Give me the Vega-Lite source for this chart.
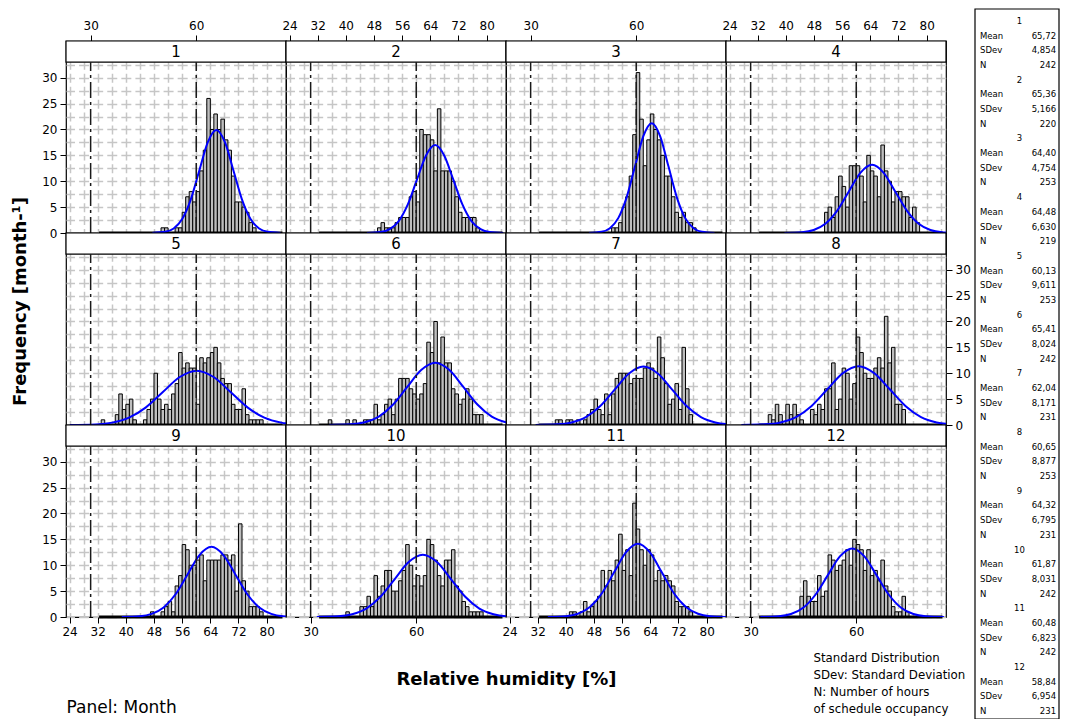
{
"$schema": "https://vega.github.io/schema/vega-lite/v6.json",
"background": "white",
"padding": {"left": 10, "top": 5, "right": 0, "bottom": 0},
"datasets": {
"refs": [{"rh": 30}, {"rh": 60}],
"stats": [
{"key":"1h","head":"1","name":"","value":""},{"key":"1m","head":"","name":"Mean","value":"65,72"},{"key":"1s","head":"","name":"SDev","value":"4,854"},{"key":"1n","head":"","name":"N","value":"242"},
{"key":"2h","head":"2","name":"","value":""},{"key":"2m","head":"","name":"Mean","value":"65,36"},{"key":"2s","head":"","name":"SDev","value":"5,166"},{"key":"2n","head":"","name":"N","value":"220"},
{"key":"3h","head":"3","name":"","value":""},{"key":"3m","head":"","name":"Mean","value":"64,40"},{"key":"3s","head":"","name":"SDev","value":"4,754"},{"key":"3n","head":"","name":"N","value":"253"},
{"key":"4h","head":"4","name":"","value":""},{"key":"4m","head":"","name":"Mean","value":"64,48"},{"key":"4s","head":"","name":"SDev","value":"6,630"},{"key":"4n","head":"","name":"N","value":"219"},
{"key":"5h","head":"5","name":"","value":""},{"key":"5m","head":"","name":"Mean","value":"60,13"},{"key":"5s","head":"","name":"SDev","value":"9,611"},{"key":"5n","head":"","name":"N","value":"253"},
{"key":"6h","head":"6","name":"","value":""},{"key":"6m","head":"","name":"Mean","value":"65,41"},{"key":"6s","head":"","name":"SDev","value":"8,024"},{"key":"6n","head":"","name":"N","value":"242"},
{"key":"7h","head":"7","name":"","value":""},{"key":"7m","head":"","name":"Mean","value":"62,04"},{"key":"7s","head":"","name":"SDev","value":"8,171"},{"key":"7n","head":"","name":"N","value":"231"},
{"key":"8h","head":"8","name":"","value":""},{"key":"8m","head":"","name":"Mean","value":"60,65"},{"key":"8s","head":"","name":"SDev","value":"8,877"},{"key":"8n","head":"","name":"N","value":"253"},
{"key":"9h","head":"9","name":"","value":""},{"key":"9m","head":"","name":"Mean","value":"64,32"},{"key":"9s","head":"","name":"SDev","value":"6,795"},{"key":"9n","head":"","name":"N","value":"231"},
{"key":"10h","head":"10","name":"","value":""},{"key":"10m","head":"","name":"Mean","value":"61,87"},{"key":"10s","head":"","name":"SDev","value":"8,031"},{"key":"10n","head":"","name":"N","value":"242"},
{"key":"11h","head":"11","name":"","value":""},{"key":"11m","head":"","name":"Mean","value":"60,48"},{"key":"11s","head":"","name":"SDev","value":"6,823"},{"key":"11n","head":"","name":"N","value":"242"},
{"key":"12h","head":"12","name":"","value":""},{"key":"12m","head":"","name":"Mean","value":"58,84"},{"key":"12s","head":"","name":"SDev","value":"6,954"},{"key":"12n","head":"","name":"N","value":"231"}
],
"hist": [
{"month":1,"from":50,"to":51,"count":1},{"month":1,"from":51,"to":52,"count":1},{"month":1,"from":54,"to":55,"count":1},{"month":1,"from":55,"to":56,"count":1},{"month":1,"from":56,"to":57,"count":4},{"month":1,"from":57,"to":58,"count":7},{"month":1,"from":58,"to":59,"count":8},{"month":1,"from":59,"to":60,"count":6},{"month":1,"from":60,"to":61,"count":8},{"month":1,"from":61,"to":62,"count":12},{"month":1,"from":62,"to":63,"count":16},{"month":1,"from":63,"to":64,"count":26},{"month":1,"from":64,"to":65,"count":20},{"month":1,"from":65,"to":66,"count":23},{"month":1,"from":66,"to":67,"count":20},{"month":1,"from":67,"to":68,"count":22},{"month":1,"from":68,"to":69,"count":18},{"month":1,"from":69,"to":70,"count":16},{"month":1,"from":70,"to":71,"count":11},{"month":1,"from":71,"to":72,"count":6},{"month":1,"from":72,"to":73,"count":6},{"month":1,"from":73,"to":74,"count":5},{"month":1,"from":74,"to":75,"count":4},{"month":1,"from":75,"to":76,"count":2},{"month":1,"from":76,"to":77,"count":1},
{"month":2,"from":49,"to":50,"count":1},{"month":2,"from":50,"to":51,"count":2},{"month":2,"from":51,"to":52,"count":1},{"month":2,"from":52,"to":53,"count":1},{"month":2,"from":53,"to":54,"count":1},{"month":2,"from":54,"to":55,"count":2},{"month":2,"from":55,"to":56,"count":3},{"month":2,"from":56,"to":57,"count":3},{"month":2,"from":57,"to":58,"count":3},{"month":2,"from":58,"to":59,"count":7},{"month":2,"from":59,"to":60,"count":8},{"month":2,"from":60,"to":61,"count":6},{"month":2,"from":61,"to":62,"count":20},{"month":2,"from":62,"to":63,"count":19},{"month":2,"from":63,"to":64,"count":19},{"month":2,"from":64,"to":65,"count":18},{"month":2,"from":65,"to":66,"count":12},{"month":2,"from":66,"to":67,"count":24},{"month":2,"from":67,"to":68,"count":12},{"month":2,"from":68,"to":69,"count":12},{"month":2,"from":69,"to":70,"count":12},{"month":2,"from":70,"to":71,"count":10},{"month":2,"from":71,"to":72,"count":7},{"month":2,"from":72,"to":73,"count":4},{"month":2,"from":73,"to":74,"count":3},{"month":2,"from":74,"to":75,"count":3},{"month":2,"from":75,"to":76,"count":3},{"month":2,"from":76,"to":77,"count":3},{"month":2,"from":77,"to":78,"count":1},
{"month":3,"from":53,"to":54,"count":1},{"month":3,"from":54,"to":55,"count":1},{"month":3,"from":55,"to":56,"count":2},{"month":3,"from":56,"to":57,"count":5},{"month":3,"from":57,"to":58,"count":7},{"month":3,"from":58,"to":59,"count":11},{"month":3,"from":59,"to":60,"count":19},{"month":3,"from":60,"to":61,"count":31},{"month":3,"from":61,"to":62,"count":22},{"month":3,"from":62,"to":63,"count":13},{"month":3,"from":63,"to":64,"count":18},{"month":3,"from":64,"to":65,"count":23},{"month":3,"from":65,"to":66,"count":20},{"month":3,"from":66,"to":67,"count":18},{"month":3,"from":67,"to":68,"count":15},{"month":3,"from":68,"to":69,"count":11},{"month":3,"from":69,"to":70,"count":11},{"month":3,"from":70,"to":71,"count":7},{"month":3,"from":71,"to":72,"count":4},{"month":3,"from":72,"to":73,"count":3},{"month":3,"from":73,"to":74,"count":4},{"month":3,"from":74,"to":75,"count":2},{"month":3,"from":75,"to":76,"count":2},{"month":3,"from":76,"to":77,"count":1},
{"month":4,"from":51,"to":52,"count":4},{"month":4,"from":52,"to":53,"count":5},{"month":4,"from":53,"to":54,"count":3},{"month":4,"from":54,"to":55,"count":7},{"month":4,"from":55,"to":56,"count":11},{"month":4,"from":56,"to":57,"count":9},{"month":4,"from":57,"to":58,"count":5},{"month":4,"from":58,"to":59,"count":13},{"month":4,"from":59,"to":60,"count":13},{"month":4,"from":60,"to":61,"count":13},{"month":4,"from":61,"to":62,"count":11},{"month":4,"from":62,"to":63,"count":6},{"month":4,"from":63,"to":64,"count":15},{"month":4,"from":64,"to":65,"count":12},{"month":4,"from":65,"to":66,"count":11},{"month":4,"from":66,"to":67,"count":7},{"month":4,"from":67,"to":68,"count":17},{"month":4,"from":68,"to":69,"count":12},{"month":4,"from":69,"to":70,"count":10},{"month":4,"from":70,"to":71,"count":6},{"month":4,"from":71,"to":72,"count":8},{"month":4,"from":72,"to":73,"count":8},{"month":4,"from":73,"to":74,"count":7},{"month":4,"from":74,"to":75,"count":7},{"month":4,"from":75,"to":76,"count":3},{"month":4,"from":76,"to":77,"count":5},{"month":4,"from":77,"to":78,"count":2},
{"month":5,"from":33,"to":34,"count":1},{"month":5,"from":37,"to":38,"count":2},{"month":5,"from":38,"to":39,"count":6},{"month":5,"from":39,"to":40,"count":3},{"month":5,"from":40,"to":41,"count":4},{"month":5,"from":41,"to":42,"count":5},{"month":5,"from":42,"to":43,"count":1},{"month":5,"from":45,"to":46,"count":1},{"month":5,"from":46,"to":47,"count":3},{"month":5,"from":47,"to":48,"count":5},{"month":5,"from":48,"to":49,"count":10},{"month":5,"from":49,"to":50,"count":5},{"month":5,"from":50,"to":51,"count":3},{"month":5,"from":51,"to":52,"count":4},{"month":5,"from":52,"to":53,"count":3},{"month":5,"from":53,"to":54,"count":6},{"month":5,"from":54,"to":55,"count":8},{"month":5,"from":55,"to":56,"count":14},{"month":5,"from":56,"to":57,"count":11},{"month":5,"from":57,"to":58,"count":12},{"month":5,"from":58,"to":59,"count":11},{"month":5,"from":59,"to":60,"count":11},{"month":5,"from":60,"to":61,"count":4},{"month":5,"from":61,"to":62,"count":13},{"month":5,"from":62,"to":63,"count":12},{"month":5,"from":63,"to":64,"count":13},{"month":5,"from":64,"to":65,"count":14},{"month":5,"from":65,"to":66,"count":15},{"month":5,"from":66,"to":67,"count":12},{"month":5,"from":67,"to":68,"count":9},{"month":5,"from":68,"to":69,"count":8},{"month":5,"from":69,"to":70,"count":8},{"month":5,"from":70,"to":71,"count":4},{"month":5,"from":71,"to":72,"count":3},{"month":5,"from":72,"to":73,"count":3},{"month":5,"from":73,"to":74,"count":7},{"month":5,"from":74,"to":75,"count":2},{"month":5,"from":75,"to":76,"count":1},{"month":5,"from":76,"to":77,"count":1},{"month":5,"from":77,"to":78,"count":1},{"month":5,"from":78,"to":79,"count":1},
{"month":6,"from":35,"to":36,"count":1},{"month":6,"from":40,"to":41,"count":1},{"month":6,"from":42,"to":43,"count":1},{"month":6,"from":45,"to":46,"count":1},{"month":6,"from":46,"to":47,"count":1},{"month":6,"from":47,"to":48,"count":1},{"month":6,"from":48,"to":49,"count":4},{"month":6,"from":49,"to":50,"count":1},{"month":6,"from":50,"to":51,"count":2},{"month":6,"from":51,"to":52,"count":4},{"month":6,"from":52,"to":53,"count":5},{"month":6,"from":53,"to":54,"count":2},{"month":6,"from":54,"to":55,"count":5},{"month":6,"from":55,"to":56,"count":9},{"month":6,"from":56,"to":57,"count":9},{"month":6,"from":57,"to":58,"count":9},{"month":6,"from":58,"to":59,"count":7},{"month":6,"from":59,"to":60,"count":6},{"month":6,"from":60,"to":61,"count":5},{"month":6,"from":61,"to":62,"count":6},{"month":6,"from":62,"to":63,"count":8},{"month":6,"from":63,"to":64,"count":16},{"month":6,"from":64,"to":65,"count":14},{"month":6,"from":65,"to":66,"count":20},{"month":6,"from":66,"to":67,"count":12},{"month":6,"from":67,"to":68,"count":17},{"month":6,"from":68,"to":69,"count":12},{"month":6,"from":69,"to":70,"count":12},{"month":6,"from":70,"to":71,"count":7},{"month":6,"from":71,"to":72,"count":6},{"month":6,"from":72,"to":73,"count":4},{"month":6,"from":73,"to":74,"count":5},{"month":6,"from":74,"to":75,"count":7},{"month":6,"from":75,"to":76,"count":5},{"month":6,"from":76,"to":77,"count":2},{"month":6,"from":77,"to":78,"count":2},{"month":6,"from":78,"to":79,"count":2},
{"month":7,"from":37,"to":38,"count":1},{"month":7,"from":38,"to":39,"count":1},{"month":7,"from":40,"to":41,"count":1},{"month":7,"from":41,"to":42,"count":1},{"month":7,"from":43,"to":44,"count":1},{"month":7,"from":45,"to":46,"count":1},{"month":7,"from":46,"to":47,"count":2},{"month":7,"from":47,"to":48,"count":3},{"month":7,"from":48,"to":49,"count":5},{"month":7,"from":49,"to":50,"count":3},{"month":7,"from":50,"to":51,"count":2},{"month":7,"from":51,"to":52,"count":6},{"month":7,"from":52,"to":53,"count":2},{"month":7,"from":53,"to":54,"count":6},{"month":7,"from":54,"to":55,"count":9},{"month":7,"from":55,"to":56,"count":10},{"month":7,"from":56,"to":57,"count":10},{"month":7,"from":57,"to":58,"count":10},{"month":7,"from":58,"to":59,"count":8},{"month":7,"from":59,"to":60,"count":9},{"month":7,"from":60,"to":61,"count":9},{"month":7,"from":61,"to":62,"count":9},{"month":7,"from":62,"to":63,"count":11},{"month":7,"from":63,"to":64,"count":12},{"month":7,"from":64,"to":65,"count":11},{"month":7,"from":65,"to":66,"count":9},{"month":7,"from":66,"to":67,"count":17},{"month":7,"from":67,"to":68,"count":13},{"month":7,"from":68,"to":69,"count":8},{"month":7,"from":69,"to":70,"count":4},{"month":7,"from":70,"to":71,"count":5},{"month":7,"from":71,"to":72,"count":8},{"month":7,"from":72,"to":73,"count":3},{"month":7,"from":73,"to":74,"count":15},{"month":7,"from":74,"to":75,"count":7},{"month":7,"from":75,"to":76,"count":2},
{"month":8,"from":35,"to":36,"count":2},{"month":8,"from":36,"to":37,"count":1},{"month":8,"from":37,"to":38,"count":4},{"month":8,"from":38,"to":39,"count":2},{"month":8,"from":40,"to":41,"count":4},{"month":8,"from":41,"to":42,"count":2},{"month":8,"from":42,"to":43,"count":4},{"month":8,"from":43,"to":44,"count":2},{"month":8,"from":44,"to":45,"count":1},{"month":8,"from":47,"to":48,"count":3},{"month":8,"from":48,"to":49,"count":2},{"month":8,"from":49,"to":50,"count":4},{"month":8,"from":50,"to":51,"count":3},{"month":8,"from":51,"to":52,"count":7},{"month":8,"from":52,"to":53,"count":7},{"month":8,"from":53,"to":54,"count":12},{"month":8,"from":54,"to":55,"count":3},{"month":8,"from":55,"to":56,"count":5},{"month":8,"from":56,"to":57,"count":11},{"month":8,"from":57,"to":58,"count":10},{"month":8,"from":58,"to":59,"count":5},{"month":8,"from":59,"to":60,"count":8},{"month":8,"from":60,"to":61,"count":17},{"month":8,"from":61,"to":62,"count":14},{"month":8,"from":62,"to":63,"count":10},{"month":8,"from":63,"to":64,"count":9},{"month":8,"from":64,"to":65,"count":9},{"month":8,"from":65,"to":66,"count":11},{"month":8,"from":66,"to":67,"count":13},{"month":8,"from":67,"to":68,"count":11},{"month":8,"from":68,"to":69,"count":21},{"month":8,"from":69,"to":70,"count":12},{"month":8,"from":70,"to":71,"count":15},{"month":8,"from":71,"to":72,"count":4},{"month":8,"from":72,"to":73,"count":4},{"month":8,"from":73,"to":74,"count":3},
{"month":9,"from":47,"to":48,"count":1},{"month":9,"from":50,"to":51,"count":1},{"month":9,"from":51,"to":52,"count":2},{"month":9,"from":52,"to":53,"count":3},{"month":9,"from":53,"to":54,"count":1},{"month":9,"from":54,"to":55,"count":6},{"month":9,"from":55,"to":56,"count":8},{"month":9,"from":56,"to":57,"count":14},{"month":9,"from":57,"to":58,"count":13},{"month":9,"from":58,"to":59,"count":10},{"month":9,"from":59,"to":60,"count":10},{"month":9,"from":60,"to":61,"count":11},{"month":9,"from":61,"to":62,"count":12},{"month":9,"from":62,"to":63,"count":7},{"month":9,"from":63,"to":64,"count":11},{"month":9,"from":64,"to":65,"count":11},{"month":9,"from":65,"to":66,"count":11},{"month":9,"from":66,"to":67,"count":11},{"month":9,"from":67,"to":68,"count":12},{"month":9,"from":68,"to":69,"count":12},{"month":9,"from":69,"to":70,"count":11},{"month":9,"from":70,"to":71,"count":12},{"month":9,"from":71,"to":72,"count":5},{"month":9,"from":72,"to":73,"count":18},{"month":9,"from":73,"to":74,"count":7},{"month":9,"from":74,"to":75,"count":5},{"month":9,"from":75,"to":76,"count":2},{"month":9,"from":76,"to":77,"count":2},{"month":9,"from":77,"to":78,"count":2},{"month":9,"from":78,"to":79,"count":1},
{"month":10,"from":40,"to":41,"count":1},{"month":10,"from":44,"to":45,"count":2},{"month":10,"from":45,"to":46,"count":2},{"month":10,"from":46,"to":47,"count":4},{"month":10,"from":47,"to":48,"count":2},{"month":10,"from":48,"to":49,"count":8},{"month":10,"from":49,"to":50,"count":4},{"month":10,"from":50,"to":51,"count":6},{"month":10,"from":51,"to":52,"count":9},{"month":10,"from":52,"to":53,"count":9},{"month":10,"from":53,"to":54,"count":5},{"month":10,"from":54,"to":55,"count":5},{"month":10,"from":55,"to":56,"count":7},{"month":10,"from":56,"to":57,"count":9},{"month":10,"from":57,"to":58,"count":14},{"month":10,"from":58,"to":59,"count":10},{"month":10,"from":59,"to":60,"count":6},{"month":10,"from":60,"to":61,"count":8},{"month":10,"from":61,"to":62,"count":6},{"month":10,"from":62,"to":63,"count":8},{"month":10,"from":63,"to":64,"count":15},{"month":10,"from":64,"to":65,"count":14},{"month":10,"from":65,"to":66,"count":11},{"month":10,"from":66,"to":67,"count":8},{"month":10,"from":67,"to":68,"count":6},{"month":10,"from":68,"to":69,"count":11},{"month":10,"from":69,"to":70,"count":11},{"month":10,"from":70,"to":71,"count":13},{"month":10,"from":71,"to":72,"count":6},{"month":10,"from":72,"to":73,"count":5},{"month":10,"from":73,"to":74,"count":3},{"month":10,"from":74,"to":75,"count":2},{"month":10,"from":75,"to":76,"count":1},{"month":10,"from":76,"to":77,"count":1},{"month":10,"from":77,"to":78,"count":1},{"month":10,"from":78,"to":79,"count":1},
{"month":11,"from":41,"to":42,"count":1},{"month":11,"from":42,"to":43,"count":1},{"month":11,"from":44,"to":45,"count":1},{"month":11,"from":45,"to":46,"count":3},{"month":11,"from":46,"to":47,"count":1},{"month":11,"from":47,"to":48,"count":2},{"month":11,"from":48,"to":49,"count":3},{"month":11,"from":49,"to":50,"count":4},{"month":11,"from":50,"to":51,"count":9},{"month":11,"from":51,"to":52,"count":6},{"month":11,"from":52,"to":53,"count":9},{"month":11,"from":53,"to":54,"count":7},{"month":11,"from":54,"to":55,"count":11},{"month":11,"from":55,"to":56,"count":16},{"month":11,"from":56,"to":57,"count":9},{"month":11,"from":57,"to":58,"count":13},{"month":11,"from":58,"to":59,"count":8},{"month":11,"from":59,"to":60,"count":22},{"month":11,"from":60,"to":61,"count":17},{"month":11,"from":61,"to":62,"count":13},{"month":11,"from":62,"to":63,"count":10},{"month":11,"from":63,"to":64,"count":13},{"month":11,"from":64,"to":65,"count":12},{"month":11,"from":65,"to":66,"count":7},{"month":11,"from":66,"to":67,"count":9},{"month":11,"from":67,"to":68,"count":7},{"month":11,"from":68,"to":69,"count":8},{"month":11,"from":69,"to":70,"count":7},{"month":11,"from":70,"to":71,"count":6},{"month":11,"from":71,"to":72,"count":3},{"month":11,"from":72,"to":73,"count":2},{"month":11,"from":73,"to":74,"count":2},{"month":11,"from":74,"to":75,"count":2},{"month":11,"from":75,"to":76,"count":1},
{"month":12,"from":44,"to":45,"count":4},{"month":12,"from":45,"to":46,"count":7},{"month":12,"from":46,"to":47,"count":4},{"month":12,"from":47,"to":48,"count":3},{"month":12,"from":48,"to":49,"count":3},{"month":12,"from":49,"to":50,"count":8},{"month":12,"from":50,"to":51,"count":4},{"month":12,"from":51,"to":52,"count":5},{"month":12,"from":52,"to":53,"count":12},{"month":12,"from":53,"to":54,"count":11},{"month":12,"from":54,"to":55,"count":9},{"month":12,"from":55,"to":56,"count":10},{"month":12,"from":56,"to":57,"count":11},{"month":12,"from":57,"to":58,"count":13},{"month":12,"from":58,"to":59,"count":10},{"month":12,"from":59,"to":60,"count":15},{"month":12,"from":60,"to":61,"count":14},{"month":12,"from":61,"to":62,"count":13},{"month":12,"from":62,"to":63,"count":9},{"month":12,"from":63,"to":64,"count":13},{"month":12,"from":64,"to":65,"count":8},{"month":12,"from":65,"to":66,"count":9},{"month":12,"from":66,"to":67,"count":7},{"month":12,"from":67,"to":68,"count":11},{"month":12,"from":68,"to":69,"count":6},{"month":12,"from":69,"to":70,"count":5},{"month":12,"from":70,"to":71,"count":2},{"month":12,"from":71,"to":72,"count":1},{"month":12,"from":72,"to":73,"count":1},{"month":12,"from":73,"to":74,"count":4},{"month":12,"from":74,"to":75,"count":1}
],
"curve": [
{"month":1,"rh":47.52,"f":0.02},{"month":1,"rh":51.16,"f":0.22},{"month":1,"rh":53.59,"f":0.87},{"month":1,"rh":56.01,"f":2.69},{"month":1,"rh":58.44,"f":6.46},{"month":1,"rh":60.87,"f":12.06},{"month":1,"rh":63.29,"f":17.55},{"month":1,"rh":65.72,"f":19.89},{"month":1,"rh":68.15,"f":17.55},{"month":1,"rh":70.57,"f":12.06},{"month":1,"rh":73.0,"f":6.46},{"month":1,"rh":75.43,"f":2.69},{"month":1,"rh":77.86,"f":0.87},{"month":1,"rh":80.28,"f":0.22},{"month":1,"rh":83.92,"f":0.02},
{"month":2,"rh":45.99,"f":0.02},{"month":2,"rh":49.86,"f":0.19},{"month":2,"rh":52.45,"f":0.75},{"month":2,"rh":55.03,"f":2.3},{"month":2,"rh":57.61,"f":5.52},{"month":2,"rh":60.19,"f":10.31},{"month":2,"rh":62.78,"f":14.99},{"month":2,"rh":65.36,"f":16.99},{"month":2,"rh":67.94,"f":14.99},{"month":2,"rh":70.53,"f":10.31},{"month":2,"rh":73.11,"f":5.52},{"month":2,"rh":75.69,"f":2.3},{"month":2,"rh":78.28,"f":0.75},{"month":2,"rh":80.86,"f":0.19},{"month":2,"rh":84.73,"f":0.02},
{"month":3,"rh":46.57,"f":0.02},{"month":3,"rh":50.14,"f":0.24},{"month":3,"rh":52.52,"f":0.93},{"month":3,"rh":54.89,"f":2.87},{"month":3,"rh":57.27,"f":6.89},{"month":3,"rh":59.65,"f":12.88},{"month":3,"rh":62.02,"f":18.74},{"month":3,"rh":64.4,"f":21.23},{"month":3,"rh":66.78,"f":18.74},{"month":3,"rh":69.15,"f":12.88},{"month":3,"rh":71.53,"f":6.89},{"month":3,"rh":73.91,"f":2.87},{"month":3,"rh":76.29,"f":0.93},{"month":3,"rh":78.66,"f":0.24},{"month":3,"rh":82.23,"f":0.02},
{"month":4,"rh":39.62,"f":0.01},{"month":4,"rh":44.59,"f":0.15},{"month":4,"rh":47.91,"f":0.58},{"month":4,"rh":51.22,"f":1.78},{"month":4,"rh":54.54,"f":4.28},{"month":4,"rh":57.85,"f":7.99},{"month":4,"rh":61.17,"f":11.63},{"month":4,"rh":64.48,"f":13.18},{"month":4,"rh":67.8,"f":11.63},{"month":4,"rh":71.11,"f":7.99},{"month":4,"rh":74.43,"f":4.28},{"month":4,"rh":77.74,"f":1.78},{"month":4,"rh":81.06,"f":0.58},{"month":4,"rh":84.37,"f":0.15},{"month":4,"rh":89.34,"f":0.01},
{"month":5,"rh":24.09,"f":0.01},{"month":5,"rh":31.3,"f":0.12},{"month":5,"rh":36.1,"f":0.46},{"month":5,"rh":40.91,"f":1.42},{"month":5,"rh":45.71,"f":3.41},{"month":5,"rh":50.52,"f":6.37},{"month":5,"rh":55.32,"f":9.27},{"month":5,"rh":60.13,"f":10.5},{"month":5,"rh":64.94,"f":9.27},{"month":5,"rh":69.74,"f":6.37},{"month":5,"rh":74.55,"f":3.41},{"month":5,"rh":79.35,"f":1.42},{"month":5,"rh":84.16,"f":0.46},{"month":5,"rh":88.96,"f":0.12},{"month":5,"rh":96.17,"f":0.01},
{"month":6,"rh":35.32,"f":0.01},{"month":6,"rh":41.34,"f":0.13},{"month":6,"rh":45.35,"f":0.53},{"month":6,"rh":49.36,"f":1.63},{"month":6,"rh":53.37,"f":3.91},{"month":6,"rh":57.39,"f":7.3},{"month":6,"rh":61.4,"f":10.62},{"month":6,"rh":65.41,"f":12.03},{"month":6,"rh":69.42,"f":10.62},{"month":6,"rh":73.43,"f":7.3},{"month":6,"rh":77.45,"f":3.91},{"month":6,"rh":81.46,"f":1.63},{"month":6,"rh":85.47,"f":0.53},{"month":6,"rh":89.48,"f":0.13},{"month":6,"rh":95.5,"f":0.01},
{"month":7,"rh":31.4,"f":0.01},{"month":7,"rh":37.53,"f":0.13},{"month":7,"rh":41.61,"f":0.5},{"month":7,"rh":45.7,"f":1.53},{"month":7,"rh":49.78,"f":3.66},{"month":7,"rh":53.87,"f":6.84},{"month":7,"rh":57.95,"f":9.95},{"month":7,"rh":62.04,"f":11.28},{"month":7,"rh":66.13,"f":9.95},{"month":7,"rh":70.21,"f":6.84},{"month":7,"rh":74.3,"f":3.66},{"month":7,"rh":78.38,"f":1.53},{"month":7,"rh":82.47,"f":0.5},{"month":7,"rh":86.55,"f":0.13},{"month":7,"rh":92.68,"f":0.01},
{"month":8,"rh":27.36,"f":0.01},{"month":8,"rh":34.02,"f":0.13},{"month":8,"rh":38.46,"f":0.5},{"month":8,"rh":42.9,"f":1.54},{"month":8,"rh":47.33,"f":3.69},{"month":8,"rh":51.77,"f":6.9},{"month":8,"rh":56.21,"f":10.03},{"month":8,"rh":60.65,"f":11.37},{"month":8,"rh":65.09,"f":10.03},{"month":8,"rh":69.53,"f":6.9},{"month":8,"rh":73.97,"f":3.69},{"month":8,"rh":78.4,"f":1.54},{"month":8,"rh":82.84,"f":0.5},{"month":8,"rh":87.28,"f":0.13},{"month":8,"rh":93.94,"f":0.01},
{"month":9,"rh":38.84,"f":0.01},{"month":9,"rh":43.94,"f":0.15},{"month":9,"rh":47.33,"f":0.6},{"month":9,"rh":50.73,"f":1.84},{"month":9,"rh":54.13,"f":4.4},{"month":9,"rh":57.53,"f":8.23},{"month":9,"rh":60.92,"f":11.97},{"month":9,"rh":64.32,"f":13.56},{"month":9,"rh":67.72,"f":11.97},{"month":9,"rh":71.12,"f":8.23},{"month":9,"rh":74.51,"f":4.4},{"month":9,"rh":77.91,"f":1.84},{"month":9,"rh":81.31,"f":0.6},{"month":9,"rh":84.71,"f":0.15},{"month":9,"rh":89.8,"f":0.01},
{"month":10,"rh":31.75,"f":0.01},{"month":10,"rh":37.78,"f":0.13},{"month":10,"rh":41.79,"f":0.53},{"month":10,"rh":45.81,"f":1.63},{"month":10,"rh":49.82,"f":3.9},{"month":10,"rh":53.84,"f":7.29},{"month":10,"rh":57.85,"f":10.61},{"month":10,"rh":61.87,"f":12.02},{"month":10,"rh":65.89,"f":10.61},{"month":10,"rh":69.9,"f":7.29},{"month":10,"rh":73.92,"f":3.9},{"month":10,"rh":77.93,"f":1.63},{"month":10,"rh":81.95,"f":0.53},{"month":10,"rh":85.96,"f":0.13},{"month":10,"rh":91.99,"f":0.01},
{"month":11,"rh":34.89,"f":0.01},{"month":11,"rh":40.01,"f":0.16},{"month":11,"rh":43.42,"f":0.62},{"month":11,"rh":46.83,"f":1.92},{"month":11,"rh":50.25,"f":4.59},{"month":11,"rh":53.66,"f":8.58},{"month":11,"rh":57.07,"f":12.49},{"month":11,"rh":60.48,"f":14.15},{"month":11,"rh":63.89,"f":12.49},{"month":11,"rh":67.3,"f":8.58},{"month":11,"rh":70.71,"f":4.59},{"month":11,"rh":74.13,"f":1.92},{"month":11,"rh":77.54,"f":0.62},{"month":11,"rh":80.95,"f":0.16},{"month":11,"rh":86.07,"f":0.01},
{"month":12,"rh":32.76,"f":0.01},{"month":12,"rh":37.98,"f":0.15},{"month":12,"rh":41.46,"f":0.58},{"month":12,"rh":44.93,"f":1.79},{"month":12,"rh":48.41,"f":4.3},{"month":12,"rh":51.89,"f":8.04},{"month":12,"rh":55.36,"f":11.7},{"month":12,"rh":58.84,"f":13.25},{"month":12,"rh":62.32,"f":11.7},{"month":12,"rh":65.79,"f":8.04},{"month":12,"rh":69.27,"f":4.3},{"month":12,"rh":72.75,"f":1.79},{"month":12,"rh":76.23,"f":0.58},{"month":12,"rh":79.7,"f":0.15},{"month":12,"rh":84.92,"f":0.01}
]
},
"hconcat": [
{
"columns": 4,
"spacing": 0,
"bounds": "flush",
"concat": [
{"width":220,"height":192,"resolve":{"axis":{"x":"independent","y":"independent"}},"layer":[
{"data":{"name":"hist"},"transform":[{"filter":"datum.month === 1"}],"mark":{"type":"rect","fill":"#bebebe","stroke":"black","strokeWidth":1},"encoding":{"x":{"field":"from","type":"quantitative","scale":{"domain":[23,85.5],"nice":false,"zero":false},"axis":{"orient":"bottom","grid":true,"values":[24,28,32,36,40,44,48,52,56,60,64,68,72,76,80,84],"labels":false,"ticks":false,"domain":false,"title":null,"gridColor":"#c6c6c6","gridWidth":1.5,"gridDash":[9,3.94],"gridDashOffset":6.57}},"x2":{"field":"to"},"y":{"field":"count","type":"quantitative","scale":{"domain":[0,37.1],"nice":false,"zero":false},"axis":{"orient":"left","grid":true,"values":[0,2.5,5,7.5,10,12.5,15,17.5,20,22.5,25,27.5,30,32.5],"labels":false,"ticks":false,"domain":false,"title":null,"gridColor":"#c6c6c6","gridWidth":1.5,"gridDash":[10,4.08],"gridDashOffset":1.48}},"y2":{"datum":0}}},
{"data":{"values":[{}]},"mark":{"type":"rule","stroke":"black","strokeWidth":3},"encoding":{"x":{"datum":32.4,"type":"quantitative","axis":null},"x2":{"datum":84.5},"y":{"datum":0,"type":"quantitative","axis":null}}},
{"data":{"name":"curve"},"transform":[{"filter":"datum.month === 1"}],"mark":{"type":"line","stroke":"#0000ff","strokeWidth":2,"interpolate":"monotone","clip":true},"encoding":{"x":{"field":"rh","type":"quantitative","axis":null},"y":{"field":"f","type":"quantitative","axis":null}}},
{"data":{"name":"refs"},"mark":{"type":"rule","stroke":"#1a1a1a","strokeWidth":1.5,"strokeDash":[16,4,3,4]},"encoding":{"x":{"field":"rh","type":"quantitative","axis":{"orient":"top","values":[30,60],"title":".","titleOpacity":0,"titleFontSize":11,"titlePadding":2}},"y":{"datum":0,"type":"quantitative","axis":{"orient":"left","values":[0,5,10,15,20,25,30],"title":null}},"y2":{"datum":33}}},
{"data":{"values":[{}]},"mark":{"type":"rect","fill":"white","stroke":"black","strokeWidth":1.2},"encoding":{"x":{"datum":23,"type":"quantitative","axis":null},"x2":{"datum":85.5},"y":{"datum":33,"type":"quantitative","axis":null},"y2":{"datum":37.1}}},
{"data":{"values":[{}]},"mark":{"type":"text","text":"1","fontSize":15,"color":"black"},"encoding":{"x":{"datum":54.25,"type":"quantitative","axis":null},"y":{"datum":35.05,"type":"quantitative","axis":null}}}
]},
{"width":220,"height":192,"resolve":{"axis":{"x":"independent","y":"independent"}},"layer":[
{"data":{"name":"hist"},"transform":[{"filter":"datum.month === 2"}],"mark":{"type":"rect","fill":"#bebebe","stroke":"black","strokeWidth":1},"encoding":{"x":{"field":"from","type":"quantitative","scale":{"domain":[23,85.5],"nice":false,"zero":false},"axis":{"orient":"bottom","grid":true,"values":[24,28,32,36,40,44,48,52,56,60,64,68,72,76,80,84],"labels":false,"ticks":false,"domain":false,"title":null,"gridColor":"#c6c6c6","gridWidth":1.5,"gridDash":[9,3.94],"gridDashOffset":6.57}},"x2":{"field":"to"},"y":{"field":"count","type":"quantitative","scale":{"domain":[0,37.1],"nice":false,"zero":false},"axis":{"orient":"left","grid":true,"values":[0,2.5,5,7.5,10,12.5,15,17.5,20,22.5,25,27.5,30,32.5],"labels":false,"ticks":false,"domain":false,"title":null,"gridColor":"#c6c6c6","gridWidth":1.5,"gridDash":[10,4.08],"gridDashOffset":1.48}},"y2":{"datum":0}}},
{"data":{"values":[{}]},"mark":{"type":"rule","stroke":"black","strokeWidth":3},"encoding":{"x":{"datum":32.4,"type":"quantitative","axis":null},"x2":{"datum":84.5},"y":{"datum":0,"type":"quantitative","axis":null}}},
{"data":{"name":"curve"},"transform":[{"filter":"datum.month === 2"}],"mark":{"type":"line","stroke":"#0000ff","strokeWidth":2,"interpolate":"monotone","clip":true},"encoding":{"x":{"field":"rh","type":"quantitative","axis":null},"y":{"field":"f","type":"quantitative","axis":null}}},
{"data":{"name":"refs"},"mark":{"type":"rule","stroke":"#1a1a1a","strokeWidth":1.5,"strokeDash":[16,4,3,4]},"encoding":{"x":{"field":"rh","type":"quantitative","axis":{"orient":"top","values":[24,32,40,48,56,64,72,80],"title":null}},"y":{"datum":0,"type":"quantitative","axis":null},"y2":{"datum":33}}},
{"data":{"values":[{}]},"mark":{"type":"rect","fill":"white","stroke":"black","strokeWidth":1.2},"encoding":{"x":{"datum":23,"type":"quantitative","axis":null},"x2":{"datum":85.5},"y":{"datum":33,"type":"quantitative","axis":null},"y2":{"datum":37.1}}},
{"data":{"values":[{}]},"mark":{"type":"text","text":"2","fontSize":15,"color":"black"},"encoding":{"x":{"datum":54.25,"type":"quantitative","axis":null},"y":{"datum":35.05,"type":"quantitative","axis":null}}}
]},
{"width":220,"height":192,"resolve":{"axis":{"x":"independent","y":"independent"}},"layer":[
{"data":{"name":"hist"},"transform":[{"filter":"datum.month === 3"}],"mark":{"type":"rect","fill":"#bebebe","stroke":"black","strokeWidth":1},"encoding":{"x":{"field":"from","type":"quantitative","scale":{"domain":[23,85.5],"nice":false,"zero":false},"axis":{"orient":"bottom","grid":true,"values":[24,28,32,36,40,44,48,52,56,60,64,68,72,76,80,84],"labels":false,"ticks":false,"domain":false,"title":null,"gridColor":"#c6c6c6","gridWidth":1.5,"gridDash":[9,3.94],"gridDashOffset":6.57}},"x2":{"field":"to"},"y":{"field":"count","type":"quantitative","scale":{"domain":[0,37.1],"nice":false,"zero":false},"axis":{"orient":"left","grid":true,"values":[0,2.5,5,7.5,10,12.5,15,17.5,20,22.5,25,27.5,30,32.5],"labels":false,"ticks":false,"domain":false,"title":null,"gridColor":"#c6c6c6","gridWidth":1.5,"gridDash":[10,4.08],"gridDashOffset":1.48}},"y2":{"datum":0}}},
{"data":{"values":[{}]},"mark":{"type":"rule","stroke":"black","strokeWidth":3},"encoding":{"x":{"datum":32.4,"type":"quantitative","axis":null},"x2":{"datum":84.5},"y":{"datum":0,"type":"quantitative","axis":null}}},
{"data":{"name":"curve"},"transform":[{"filter":"datum.month === 3"}],"mark":{"type":"line","stroke":"#0000ff","strokeWidth":2,"interpolate":"monotone","clip":true},"encoding":{"x":{"field":"rh","type":"quantitative","axis":null},"y":{"field":"f","type":"quantitative","axis":null}}},
{"data":{"name":"refs"},"mark":{"type":"rule","stroke":"#1a1a1a","strokeWidth":1.5,"strokeDash":[16,4,3,4]},"encoding":{"x":{"field":"rh","type":"quantitative","axis":{"orient":"top","values":[30,60],"title":null}},"y":{"datum":0,"type":"quantitative","axis":null},"y2":{"datum":33}}},
{"data":{"values":[{}]},"mark":{"type":"rect","fill":"white","stroke":"black","strokeWidth":1.2},"encoding":{"x":{"datum":23,"type":"quantitative","axis":null},"x2":{"datum":85.5},"y":{"datum":33,"type":"quantitative","axis":null},"y2":{"datum":37.1}}},
{"data":{"values":[{}]},"mark":{"type":"text","text":"3","fontSize":15,"color":"black"},"encoding":{"x":{"datum":54.25,"type":"quantitative","axis":null},"y":{"datum":35.05,"type":"quantitative","axis":null}}}
]},
{"width":220,"height":192,"resolve":{"axis":{"x":"independent","y":"independent"}},"layer":[
{"data":{"name":"hist"},"transform":[{"filter":"datum.month === 4"}],"mark":{"type":"rect","fill":"#bebebe","stroke":"black","strokeWidth":1},"encoding":{"x":{"field":"from","type":"quantitative","scale":{"domain":[23,85.5],"nice":false,"zero":false},"axis":{"orient":"bottom","grid":true,"values":[24,28,32,36,40,44,48,52,56,60,64,68,72,76,80,84],"labels":false,"ticks":false,"domain":false,"title":null,"gridColor":"#c6c6c6","gridWidth":1.5,"gridDash":[9,3.94],"gridDashOffset":6.57}},"x2":{"field":"to"},"y":{"field":"count","type":"quantitative","scale":{"domain":[0,37.1],"nice":false,"zero":false},"axis":{"orient":"left","grid":true,"values":[0,2.5,5,7.5,10,12.5,15,17.5,20,22.5,25,27.5,30,32.5],"labels":false,"ticks":false,"domain":false,"title":null,"gridColor":"#c6c6c6","gridWidth":1.5,"gridDash":[10,4.08],"gridDashOffset":1.48}},"y2":{"datum":0}}},
{"data":{"values":[{}]},"mark":{"type":"rule","stroke":"black","strokeWidth":3},"encoding":{"x":{"datum":32.4,"type":"quantitative","axis":null},"x2":{"datum":84.5},"y":{"datum":0,"type":"quantitative","axis":null}}},
{"data":{"name":"curve"},"transform":[{"filter":"datum.month === 4"}],"mark":{"type":"line","stroke":"#0000ff","strokeWidth":2,"interpolate":"monotone","clip":true},"encoding":{"x":{"field":"rh","type":"quantitative","axis":null},"y":{"field":"f","type":"quantitative","axis":null}}},
{"data":{"name":"refs"},"mark":{"type":"rule","stroke":"#1a1a1a","strokeWidth":1.5,"strokeDash":[16,4,3,4]},"encoding":{"x":{"field":"rh","type":"quantitative","axis":{"orient":"top","values":[24,32,40,48,56,64,72,80],"title":null}},"y":{"datum":0,"type":"quantitative","axis":null},"y2":{"datum":33}}},
{"data":{"values":[{}]},"mark":{"type":"rect","fill":"white","stroke":"black","strokeWidth":1.2},"encoding":{"x":{"datum":23,"type":"quantitative","axis":null},"x2":{"datum":85.5},"y":{"datum":33,"type":"quantitative","axis":null},"y2":{"datum":37.1}}},
{"data":{"values":[{}]},"mark":{"type":"text","text":"4","fontSize":15,"color":"black"},"encoding":{"x":{"datum":54.25,"type":"quantitative","axis":null},"y":{"datum":35.05,"type":"quantitative","axis":null}}}
]},
{"width":220,"height":192,"resolve":{"axis":{"x":"independent","y":"independent"}},"layer":[
{"data":{"name":"hist"},"transform":[{"filter":"datum.month === 5"}],"mark":{"type":"rect","fill":"#bebebe","stroke":"black","strokeWidth":1},"encoding":{"x":{"field":"from","type":"quantitative","scale":{"domain":[23,85.5],"nice":false,"zero":false},"axis":{"orient":"bottom","grid":true,"values":[24,28,32,36,40,44,48,52,56,60,64,68,72,76,80,84],"labels":false,"ticks":false,"domain":false,"title":null,"gridColor":"#c6c6c6","gridWidth":1.5,"gridDash":[9,3.94],"gridDashOffset":6.57}},"x2":{"field":"to"},"y":{"field":"count","type":"quantitative","scale":{"domain":[0,37.1],"nice":false,"zero":false},"axis":{"orient":"left","grid":true,"values":[0,2.5,5,7.5,10,12.5,15,17.5,20,22.5,25,27.5,30,32.5],"labels":false,"ticks":false,"domain":false,"title":null,"gridColor":"#c6c6c6","gridWidth":1.5,"gridDash":[10,4.08],"gridDashOffset":1.48}},"y2":{"datum":0}}},
{"data":{"values":[{}]},"mark":{"type":"rule","stroke":"black","strokeWidth":3},"encoding":{"x":{"datum":32.4,"type":"quantitative","axis":null},"x2":{"datum":84.5},"y":{"datum":0,"type":"quantitative","axis":null}}},
{"data":{"name":"curve"},"transform":[{"filter":"datum.month === 5"}],"mark":{"type":"line","stroke":"#0000ff","strokeWidth":2,"interpolate":"monotone","clip":true},"encoding":{"x":{"field":"rh","type":"quantitative","axis":null},"y":{"field":"f","type":"quantitative","axis":null}}},
{"data":{"name":"refs"},"mark":{"type":"rule","stroke":"#1a1a1a","strokeWidth":1.5,"strokeDash":[16,4,3,4]},"encoding":{"x":{"field":"rh","type":"quantitative","axis":null},"y":{"datum":0,"type":"quantitative","axis":{"orient":"left","labels":false,"ticks":false,"domain":false,"grid":false,"title":"Frequency [month-¹]","titleFontSize":18,"titleFontWeight":"bold","titlePadding":37,"titleY":68}},"y2":{"datum":33}}},
{"data":{"values":[{}]},"mark":{"type":"rect","fill":"white","stroke":"black","strokeWidth":1.2},"encoding":{"x":{"datum":23,"type":"quantitative","axis":null},"x2":{"datum":85.5},"y":{"datum":33,"type":"quantitative","axis":null},"y2":{"datum":37.1}}},
{"data":{"values":[{}]},"mark":{"type":"text","text":"5","fontSize":15,"color":"black"},"encoding":{"x":{"datum":54.25,"type":"quantitative","axis":null},"y":{"datum":35.05,"type":"quantitative","axis":null}}}
]},
{"width":220,"height":192,"resolve":{"axis":{"x":"independent","y":"independent"}},"layer":[
{"data":{"name":"hist"},"transform":[{"filter":"datum.month === 6"}],"mark":{"type":"rect","fill":"#bebebe","stroke":"black","strokeWidth":1},"encoding":{"x":{"field":"from","type":"quantitative","scale":{"domain":[23,85.5],"nice":false,"zero":false},"axis":{"orient":"bottom","grid":true,"values":[24,28,32,36,40,44,48,52,56,60,64,68,72,76,80,84],"labels":false,"ticks":false,"domain":false,"title":null,"gridColor":"#c6c6c6","gridWidth":1.5,"gridDash":[9,3.94],"gridDashOffset":6.57}},"x2":{"field":"to"},"y":{"field":"count","type":"quantitative","scale":{"domain":[0,37.1],"nice":false,"zero":false},"axis":{"orient":"left","grid":true,"values":[0,2.5,5,7.5,10,12.5,15,17.5,20,22.5,25,27.5,30,32.5],"labels":false,"ticks":false,"domain":false,"title":null,"gridColor":"#c6c6c6","gridWidth":1.5,"gridDash":[10,4.08],"gridDashOffset":1.48}},"y2":{"datum":0}}},
{"data":{"values":[{}]},"mark":{"type":"rule","stroke":"black","strokeWidth":3},"encoding":{"x":{"datum":32.4,"type":"quantitative","axis":null},"x2":{"datum":84.5},"y":{"datum":0,"type":"quantitative","axis":null}}},
{"data":{"name":"curve"},"transform":[{"filter":"datum.month === 6"}],"mark":{"type":"line","stroke":"#0000ff","strokeWidth":2,"interpolate":"monotone","clip":true},"encoding":{"x":{"field":"rh","type":"quantitative","axis":null},"y":{"field":"f","type":"quantitative","axis":null}}},
{"data":{"name":"refs"},"mark":{"type":"rule","stroke":"#1a1a1a","strokeWidth":1.5,"strokeDash":[16,4,3,4]},"encoding":{"x":{"field":"rh","type":"quantitative","axis":null},"y":{"datum":0,"type":"quantitative","axis":null},"y2":{"datum":33}}},
{"data":{"values":[{}]},"mark":{"type":"rect","fill":"white","stroke":"black","strokeWidth":1.2},"encoding":{"x":{"datum":23,"type":"quantitative","axis":null},"x2":{"datum":85.5},"y":{"datum":33,"type":"quantitative","axis":null},"y2":{"datum":37.1}}},
{"data":{"values":[{}]},"mark":{"type":"text","text":"6","fontSize":15,"color":"black"},"encoding":{"x":{"datum":54.25,"type":"quantitative","axis":null},"y":{"datum":35.05,"type":"quantitative","axis":null}}}
]},
{"width":220,"height":192,"resolve":{"axis":{"x":"independent","y":"independent"}},"layer":[
{"data":{"name":"hist"},"transform":[{"filter":"datum.month === 7"}],"mark":{"type":"rect","fill":"#bebebe","stroke":"black","strokeWidth":1},"encoding":{"x":{"field":"from","type":"quantitative","scale":{"domain":[23,85.5],"nice":false,"zero":false},"axis":{"orient":"bottom","grid":true,"values":[24,28,32,36,40,44,48,52,56,60,64,68,72,76,80,84],"labels":false,"ticks":false,"domain":false,"title":null,"gridColor":"#c6c6c6","gridWidth":1.5,"gridDash":[9,3.94],"gridDashOffset":6.57}},"x2":{"field":"to"},"y":{"field":"count","type":"quantitative","scale":{"domain":[0,37.1],"nice":false,"zero":false},"axis":{"orient":"left","grid":true,"values":[0,2.5,5,7.5,10,12.5,15,17.5,20,22.5,25,27.5,30,32.5],"labels":false,"ticks":false,"domain":false,"title":null,"gridColor":"#c6c6c6","gridWidth":1.5,"gridDash":[10,4.08],"gridDashOffset":1.48}},"y2":{"datum":0}}},
{"data":{"values":[{}]},"mark":{"type":"rule","stroke":"black","strokeWidth":3},"encoding":{"x":{"datum":32.4,"type":"quantitative","axis":null},"x2":{"datum":84.5},"y":{"datum":0,"type":"quantitative","axis":null}}},
{"data":{"name":"curve"},"transform":[{"filter":"datum.month === 7"}],"mark":{"type":"line","stroke":"#0000ff","strokeWidth":2,"interpolate":"monotone","clip":true},"encoding":{"x":{"field":"rh","type":"quantitative","axis":null},"y":{"field":"f","type":"quantitative","axis":null}}},
{"data":{"name":"refs"},"mark":{"type":"rule","stroke":"#1a1a1a","strokeWidth":1.5,"strokeDash":[16,4,3,4]},"encoding":{"x":{"field":"rh","type":"quantitative","axis":null},"y":{"datum":0,"type":"quantitative","axis":null},"y2":{"datum":33}}},
{"data":{"values":[{}]},"mark":{"type":"rect","fill":"white","stroke":"black","strokeWidth":1.2},"encoding":{"x":{"datum":23,"type":"quantitative","axis":null},"x2":{"datum":85.5},"y":{"datum":33,"type":"quantitative","axis":null},"y2":{"datum":37.1}}},
{"data":{"values":[{}]},"mark":{"type":"text","text":"7","fontSize":15,"color":"black"},"encoding":{"x":{"datum":54.25,"type":"quantitative","axis":null},"y":{"datum":35.05,"type":"quantitative","axis":null}}}
]},
{"width":220,"height":192,"resolve":{"axis":{"x":"independent","y":"independent"}},"layer":[
{"data":{"name":"hist"},"transform":[{"filter":"datum.month === 8"}],"mark":{"type":"rect","fill":"#bebebe","stroke":"black","strokeWidth":1},"encoding":{"x":{"field":"from","type":"quantitative","scale":{"domain":[23,85.5],"nice":false,"zero":false},"axis":{"orient":"bottom","grid":true,"values":[24,28,32,36,40,44,48,52,56,60,64,68,72,76,80,84],"labels":false,"ticks":false,"domain":false,"title":null,"gridColor":"#c6c6c6","gridWidth":1.5,"gridDash":[9,3.94],"gridDashOffset":6.57}},"x2":{"field":"to"},"y":{"field":"count","type":"quantitative","scale":{"domain":[0,37.1],"nice":false,"zero":false},"axis":{"orient":"left","grid":true,"values":[0,2.5,5,7.5,10,12.5,15,17.5,20,22.5,25,27.5,30,32.5],"labels":false,"ticks":false,"domain":false,"title":null,"gridColor":"#c6c6c6","gridWidth":1.5,"gridDash":[10,4.08],"gridDashOffset":1.48}},"y2":{"datum":0}}},
{"data":{"values":[{}]},"mark":{"type":"rule","stroke":"black","strokeWidth":3},"encoding":{"x":{"datum":32.4,"type":"quantitative","axis":null},"x2":{"datum":84.5},"y":{"datum":0,"type":"quantitative","axis":null}}},
{"data":{"name":"curve"},"transform":[{"filter":"datum.month === 8"}],"mark":{"type":"line","stroke":"#0000ff","strokeWidth":2,"interpolate":"monotone","clip":true},"encoding":{"x":{"field":"rh","type":"quantitative","axis":null},"y":{"field":"f","type":"quantitative","axis":null}}},
{"data":{"name":"refs"},"mark":{"type":"rule","stroke":"#1a1a1a","strokeWidth":1.5,"strokeDash":[16,4,3,4]},"encoding":{"x":{"field":"rh","type":"quantitative","axis":null},"y":{"datum":0,"type":"quantitative","axis":{"orient":"right","values":[0,5,10,15,20,25,30],"title":null}},"y2":{"datum":33}}},
{"data":{"values":[{}]},"mark":{"type":"rect","fill":"white","stroke":"black","strokeWidth":1.2},"encoding":{"x":{"datum":23,"type":"quantitative","axis":null},"x2":{"datum":85.5},"y":{"datum":33,"type":"quantitative","axis":null},"y2":{"datum":37.1}}},
{"data":{"values":[{}]},"mark":{"type":"text","text":"8","fontSize":15,"color":"black"},"encoding":{"x":{"datum":54.25,"type":"quantitative","axis":null},"y":{"datum":35.05,"type":"quantitative","axis":null}}}
]},
{"width":220,"height":192,"resolve":{"axis":{"x":"independent","y":"independent"}},"layer":[
{"data":{"name":"hist"},"transform":[{"filter":"datum.month === 9"}],"mark":{"type":"rect","fill":"#bebebe","stroke":"black","strokeWidth":1},"encoding":{"x":{"field":"from","type":"quantitative","scale":{"domain":[23,85.5],"nice":false,"zero":false},"axis":{"orient":"bottom","grid":true,"values":[24,28,32,36,40,44,48,52,56,60,64,68,72,76,80,84],"labels":false,"ticks":false,"domain":false,"title":null,"gridColor":"#c6c6c6","gridWidth":1.5,"gridDash":[9,3.94],"gridDashOffset":6.57}},"x2":{"field":"to"},"y":{"field":"count","type":"quantitative","scale":{"domain":[0,37.1],"nice":false,"zero":false},"axis":{"orient":"left","grid":true,"values":[0,2.5,5,7.5,10,12.5,15,17.5,20,22.5,25,27.5,30,32.5],"labels":false,"ticks":false,"domain":false,"title":null,"gridColor":"#c6c6c6","gridWidth":1.5,"gridDash":[10,4.08],"gridDashOffset":1.48}},"y2":{"datum":0}}},
{"data":{"values":[{}]},"mark":{"type":"rule","stroke":"black","strokeWidth":3},"encoding":{"x":{"datum":32.4,"type":"quantitative","axis":null},"x2":{"datum":84.5},"y":{"datum":0,"type":"quantitative","axis":null}}},
{"data":{"name":"curve"},"transform":[{"filter":"datum.month === 9"}],"mark":{"type":"line","stroke":"#0000ff","strokeWidth":2,"interpolate":"monotone","clip":true},"encoding":{"x":{"field":"rh","type":"quantitative","axis":null},"y":{"field":"f","type":"quantitative","axis":null}}},
{"data":{"name":"refs"},"mark":{"type":"rule","stroke":"#1a1a1a","strokeWidth":1.5,"strokeDash":[16,4,3,4]},"encoding":{"x":{"field":"rh","type":"quantitative","axis":{"orient":"bottom","values":[24,32,40,48,56,64,72,80],"title":"Panel: Month","titleX":0,"titleY":90,"titleAlign":"left","titleBaseline":"middle","titleFontSize":17,"titleFontWeight":"normal"}},"y":{"datum":0,"type":"quantitative","axis":{"orient":"left","values":[0,5,10,15,20,25,30],"title":null}},"y2":{"datum":33}}},
{"data":{"values":[{}]},"mark":{"type":"rect","fill":"white","stroke":"black","strokeWidth":1.2},"encoding":{"x":{"datum":23,"type":"quantitative","axis":null},"x2":{"datum":85.5},"y":{"datum":33,"type":"quantitative","axis":null},"y2":{"datum":37.1}}},
{"data":{"values":[{}]},"mark":{"type":"text","text":"9","fontSize":15,"color":"black"},"encoding":{"x":{"datum":54.25,"type":"quantitative","axis":null},"y":{"datum":35.05,"type":"quantitative","axis":null}}}
]},
{"width":220,"height":192,"resolve":{"axis":{"x":"independent","y":"independent"}},"layer":[
{"data":{"name":"hist"},"transform":[{"filter":"datum.month === 10"}],"mark":{"type":"rect","fill":"#bebebe","stroke":"black","strokeWidth":1},"encoding":{"x":{"field":"from","type":"quantitative","scale":{"domain":[23,85.5],"nice":false,"zero":false},"axis":{"orient":"bottom","grid":true,"values":[24,28,32,36,40,44,48,52,56,60,64,68,72,76,80,84],"labels":false,"ticks":false,"domain":false,"title":null,"gridColor":"#c6c6c6","gridWidth":1.5,"gridDash":[9,3.94],"gridDashOffset":6.57}},"x2":{"field":"to"},"y":{"field":"count","type":"quantitative","scale":{"domain":[0,37.1],"nice":false,"zero":false},"axis":{"orient":"left","grid":true,"values":[0,2.5,5,7.5,10,12.5,15,17.5,20,22.5,25,27.5,30,32.5],"labels":false,"ticks":false,"domain":false,"title":null,"gridColor":"#c6c6c6","gridWidth":1.5,"gridDash":[10,4.08],"gridDashOffset":1.48}},"y2":{"datum":0}}},
{"data":{"values":[{}]},"mark":{"type":"rule","stroke":"black","strokeWidth":3},"encoding":{"x":{"datum":32.4,"type":"quantitative","axis":null},"x2":{"datum":84.5},"y":{"datum":0,"type":"quantitative","axis":null}}},
{"data":{"name":"curve"},"transform":[{"filter":"datum.month === 10"}],"mark":{"type":"line","stroke":"#0000ff","strokeWidth":2,"interpolate":"monotone","clip":true},"encoding":{"x":{"field":"rh","type":"quantitative","axis":null},"y":{"field":"f","type":"quantitative","axis":null}}},
{"data":{"name":"refs"},"mark":{"type":"rule","stroke":"#1a1a1a","strokeWidth":1.5,"strokeDash":[16,4,3,4]},"encoding":{"x":{"field":"rh","type":"quantitative","axis":{"orient":"bottom","values":[30,60],"title":"Relative humidity [%]","titleX":220,"titleY":62,"titleAlign":"center","titleBaseline":"middle","titleFontSize":18,"titleFontWeight":"bold"}},"y":{"datum":0,"type":"quantitative","axis":null},"y2":{"datum":33}}},
{"data":{"values":[{}]},"mark":{"type":"rect","fill":"white","stroke":"black","strokeWidth":1.2},"encoding":{"x":{"datum":23,"type":"quantitative","axis":null},"x2":{"datum":85.5},"y":{"datum":33,"type":"quantitative","axis":null},"y2":{"datum":37.1}}},
{"data":{"values":[{}]},"mark":{"type":"text","text":"10","fontSize":15,"color":"black"},"encoding":{"x":{"datum":54.25,"type":"quantitative","axis":null},"y":{"datum":35.05,"type":"quantitative","axis":null}}}
]},
{"width":220,"height":192,"resolve":{"axis":{"x":"independent","y":"independent"}},"layer":[
{"data":{"name":"hist"},"transform":[{"filter":"datum.month === 11"}],"mark":{"type":"rect","fill":"#bebebe","stroke":"black","strokeWidth":1},"encoding":{"x":{"field":"from","type":"quantitative","scale":{"domain":[23,85.5],"nice":false,"zero":false},"axis":{"orient":"bottom","grid":true,"values":[24,28,32,36,40,44,48,52,56,60,64,68,72,76,80,84],"labels":false,"ticks":false,"domain":false,"title":null,"gridColor":"#c6c6c6","gridWidth":1.5,"gridDash":[9,3.94],"gridDashOffset":6.57}},"x2":{"field":"to"},"y":{"field":"count","type":"quantitative","scale":{"domain":[0,37.1],"nice":false,"zero":false},"axis":{"orient":"left","grid":true,"values":[0,2.5,5,7.5,10,12.5,15,17.5,20,22.5,25,27.5,30,32.5],"labels":false,"ticks":false,"domain":false,"title":null,"gridColor":"#c6c6c6","gridWidth":1.5,"gridDash":[10,4.08],"gridDashOffset":1.48}},"y2":{"datum":0}}},
{"data":{"values":[{}]},"mark":{"type":"rule","stroke":"black","strokeWidth":3},"encoding":{"x":{"datum":32.4,"type":"quantitative","axis":null},"x2":{"datum":84.5},"y":{"datum":0,"type":"quantitative","axis":null}}},
{"data":{"name":"curve"},"transform":[{"filter":"datum.month === 11"}],"mark":{"type":"line","stroke":"#0000ff","strokeWidth":2,"interpolate":"monotone","clip":true},"encoding":{"x":{"field":"rh","type":"quantitative","axis":null},"y":{"field":"f","type":"quantitative","axis":null}}},
{"data":{"name":"refs"},"mark":{"type":"rule","stroke":"#1a1a1a","strokeWidth":1.5,"strokeDash":[16,4,3,4]},"encoding":{"x":{"field":"rh","type":"quantitative","axis":{"orient":"bottom","values":[24,32,40,48,56,64,72,80],"title":null}},"y":{"datum":0,"type":"quantitative","axis":null},"y2":{"datum":33}}},
{"data":{"values":[{}]},"mark":{"type":"rect","fill":"white","stroke":"black","strokeWidth":1.2},"encoding":{"x":{"datum":23,"type":"quantitative","axis":null},"x2":{"datum":85.5},"y":{"datum":33,"type":"quantitative","axis":null},"y2":{"datum":37.1}}},
{"data":{"values":[{}]},"mark":{"type":"text","text":"11","fontSize":15,"color":"black"},"encoding":{"x":{"datum":54.25,"type":"quantitative","axis":null},"y":{"datum":35.05,"type":"quantitative","axis":null}}}
]},
{"width":220,"height":192,"resolve":{"axis":{"x":"independent","y":"independent"}},"layer":[
{"data":{"name":"hist"},"transform":[{"filter":"datum.month === 12"}],"mark":{"type":"rect","fill":"#bebebe","stroke":"black","strokeWidth":1},"encoding":{"x":{"field":"from","type":"quantitative","scale":{"domain":[23,85.5],"nice":false,"zero":false},"axis":{"orient":"bottom","grid":true,"values":[24,28,32,36,40,44,48,52,56,60,64,68,72,76,80,84],"labels":false,"ticks":false,"domain":false,"title":null,"gridColor":"#c6c6c6","gridWidth":1.5,"gridDash":[9,3.94],"gridDashOffset":6.57}},"x2":{"field":"to"},"y":{"field":"count","type":"quantitative","scale":{"domain":[0,37.1],"nice":false,"zero":false},"axis":{"orient":"left","grid":true,"values":[0,2.5,5,7.5,10,12.5,15,17.5,20,22.5,25,27.5,30,32.5],"labels":false,"ticks":false,"domain":false,"title":null,"gridColor":"#c6c6c6","gridWidth":1.5,"gridDash":[10,4.08],"gridDashOffset":1.48}},"y2":{"datum":0}}},
{"data":{"values":[{}]},"mark":{"type":"rule","stroke":"black","strokeWidth":3},"encoding":{"x":{"datum":32.4,"type":"quantitative","axis":null},"x2":{"datum":84.5},"y":{"datum":0,"type":"quantitative","axis":null}}},
{"data":{"name":"curve"},"transform":[{"filter":"datum.month === 12"}],"mark":{"type":"line","stroke":"#0000ff","strokeWidth":2,"interpolate":"monotone","clip":true},"encoding":{"x":{"field":"rh","type":"quantitative","axis":null},"y":{"field":"f","type":"quantitative","axis":null}}},
{"data":{"name":"refs"},"mark":{"type":"rule","stroke":"#1a1a1a","strokeWidth":1.5,"strokeDash":[16,4,3,4]},"encoding":{"x":{"field":"rh","type":"quantitative","axis":{"orient":"bottom","values":[30,60],"title":["Standard Distribution","SDev: Standard Deviation","N: Number of hours","of schedule occupancy"],"titleX":87,"titleY":35,"titleAlign":"left","titleBaseline":"top","titleFontSize":11.8,"titleFontWeight":"normal","titleLineHeight":17}},"y":{"datum":0,"type":"quantitative","axis":null},"y2":{"datum":33}}},
{"data":{"values":[{}]},"mark":{"type":"rect","fill":"white","stroke":"black","strokeWidth":1.2},"encoding":{"x":{"datum":23,"type":"quantitative","axis":null},"x2":{"datum":85.5},"y":{"datum":33,"type":"quantitative","axis":null},"y2":{"datum":37.1}}},
{"data":{"values":[{}]},"mark":{"type":"text","text":"12","fontSize":15,"color":"black"},"encoding":{"x":{"datum":54.25,"type":"quantitative","axis":null},"y":{"datum":35.05,"type":"quantitative","axis":null}}}
]}
]
},
{
"width": 84,
"height": 675,
"view": {"stroke": null},
"resolve": {"scale": {"y": "independent"}},
"layer": [
{"data": {"values": [{}]}, "mark": {"type": "rect", "fill": "white", "stroke": "black", "strokeWidth": 1.2}, "encoding": {"x": {"datum": 0, "type": "quantitative", "scale": {"domain": [0, 1]}, "axis": null}, "x2": {"datum": 1}, "y": {"datum": 0, "type": "quantitative", "scale": {"domain": [0, 1], "range": [678, -32]}, "axis": null}, "y2": {"datum": 1}}},
{"data": {"name": "stats"}, "mark": {"type": "text", "fontSize": 8.5, "align": "center", "color": "black"}, "encoding": {"y": {"field": "key", "type": "ordinal", "sort": null, "axis": null, "scale": {"range": [-20, 670], "padding": 0}}, "x": {"datum": 0.53, "type": "quantitative", "axis": null}, "text": {"field": "head"}}},
{"data": {"name": "stats"}, "mark": {"type": "text", "fontSize": 8.5, "align": "left", "color": "black"}, "encoding": {"y": {"field": "key", "type": "ordinal", "sort": null, "axis": null, "scale": {"range": [-20, 670], "padding": 0}}, "x": {"datum": 0.06, "type": "quantitative", "axis": null}, "text": {"field": "name"}}},
{"data": {"name": "stats"}, "mark": {"type": "text", "fontSize": 8.5, "align": "right", "color": "black"}, "encoding": {"y": {"field": "key", "type": "ordinal", "sort": null, "axis": null, "scale": {"range": [-20, 670], "padding": 0}}, "x": {"datum": 0.965, "type": "quantitative", "axis": null}, "text": {"field": "value"}}}
]
}
],
"spacing": 3,
"config": {
"font": "DejaVu Sans",
"view": {"stroke": "black", "strokeWidth": 1.2},
"axis": {"grid": false, "domain": false, "labelFont": "DejaVu Sans", "labelFontSize": 12, "labelColor": "black", "tickColor": "black", "tickSize": 6, "tickWidth": 1, "labelPadding": 3, "labelFlush": false, "labelOverlap": false, "titleFont": "DejaVu Sans", "titleColor": "black"}
}
}
